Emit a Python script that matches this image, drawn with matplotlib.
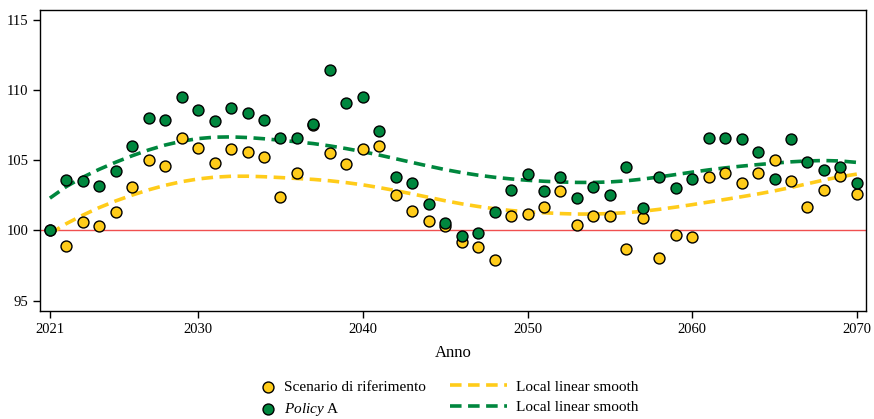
import numpy as np
import matplotlib
matplotlib.use("Agg")
import matplotlib.pyplot as plt

# ---------------------------------------------------------------------------
# Data
# ---------------------------------------------------------------------------
years = np.arange(2021, 2071)

baseline = [
    100.0, 98.9, 100.6, 100.3, 101.3, 103.1, 105.0, 104.6, 106.6, 105.9,
    104.8, 105.8, 105.6, 105.2, 102.4, 104.1, 107.5, 105.5, 104.7, 105.8,
    106.0, 102.5, 101.4, 100.7, 100.3, 99.2, 98.8, 97.9, 101.0, 101.2,
    101.7, 102.8, 100.4, 101.0, 101.0, 98.7, 100.9, 98.05, 99.7, 99.5,
    103.8, 104.1, 103.4, 104.1, 105.0, 103.5, 101.7, 102.9, 103.9, 102.6,
]

policy_a = [
    100.0, 103.6, 103.5, 103.2, 104.2, 106.0, 108.0, 107.9, 109.5, 108.6,
    107.8, 108.7, 108.4, 107.9, 106.6, 106.6, 107.6, 111.45, 109.1, 109.5,
    107.1, 103.8, 103.4, 101.9, 100.5, 99.6, 99.8, 101.3, 102.9, 104.0,
    102.8, 103.8, 102.3, 103.1, 102.5, 104.5, 101.6, 103.8, 103.0, 103.7,
    106.6, 106.6, 106.5, 105.6, 103.7, 106.5, 104.9, 104.3, 104.5, 103.4,
]

x_ticks = [2021, 2030, 2040, 2050, 2060, 2070]
y_ticks = [95, 100, 105, 110, 115]

YELLOW = "#FFCC1A"
GREEN = "#00873E"
BANDWIDTH = 7.0


# ---------------------------------------------------------------------------
# Local linear smoother (Epanechnikov kernel, Stata-style scaling)
# ---------------------------------------------------------------------------
def local_linear(x, y, grid, h):
    x = np.asarray(x, float)
    y = np.asarray(y, float)
    fitted = []
    for g in grid:
        z = (x - g) / h
        w = np.where(np.abs(z) < np.sqrt(5), 0.75 * (1 - z**2 / 5) / np.sqrt(5), 0.0)
        X = np.column_stack([np.ones_like(x), x - g])
        sw = np.sqrt(w)
        beta = np.linalg.lstsq(X * sw[:, None], y * sw, rcond=None)[0]
        fitted.append(beta[0])
    return np.array(fitted)


grid = np.linspace(years.min(), years.max(), 50)
smooth_base = local_linear(years, baseline, grid, BANDWIDTH)
smooth_pol = local_linear(years, policy_a, grid, BANDWIDTH)

# ---------------------------------------------------------------------------
# Plot
# ---------------------------------------------------------------------------
plt.rcParams["font.family"] = ["Liberation Serif", "DejaVu Serif"]
plt.rcParams["mathtext.fontset"] = "custom"
plt.rcParams["mathtext.it"] = "Liberation Serif:italic"
plt.rcParams["mathtext.rm"] = "Liberation Serif"

fig = plt.figure(figsize=(8.74, 4.19), dpi=100)
ax = fig.add_axes([0.0458, 0.258, 0.945, 0.718])

ax.axhline(100, color="#F05050", lw=1.0, zorder=1)

ln1, = ax.plot(grid, smooth_base, color=YELLOW, lw=2.6, dashes=(3.2, 1.8), zorder=2)
ln2, = ax.plot(grid, smooth_pol, color=GREEN, lw=2.6, dashes=(3.2, 1.8), zorder=2)

sc1 = ax.scatter(years, baseline, s=62, color=YELLOW, edgecolor="black",
                 linewidth=1.0, zorder=3)
sc2 = ax.scatter(years, policy_a, s=62, color=GREEN, edgecolor="black",
                 linewidth=1.0, zorder=4)

ax.set_xlim(2020.4, 2070.55)
ax.set_ylim(94.27, 115.7)
ax.set_xticks(x_ticks)
ax.set_yticks(y_ticks)
ax.tick_params(axis="both", labelsize=10.5, length=5, width=1, color="black")
for side in ax.spines.values():
    side.set_linewidth(1.0)
ax.set_xlabel("Anno", fontsize=12, labelpad=7)

# two legend blocks side by side: markers on the left, smooth lines on the right
leg_kw = dict(frameon=False, fontsize=11, borderpad=0, borderaxespad=0,
              labelspacing=0.45, loc="upper left")
leg1 = fig.legend([sc1, sc2], ["Scenario di riferimento", r"$\it{Policy}$ A"],
                  bbox_to_anchor=(260 / 874, 1 - 380 / 419), handlelength=1.0,
                  handletextpad=0.6, scatterpoints=1, **leg_kw)
leg2 = fig.legend([ln1, ln2], ["Local linear smooth", "Local linear smooth"],
                  bbox_to_anchor=(450 / 874, 1 - 380 / 419), handlelength=3.7,
                  handletextpad=0.65, **leg_kw)

fig.savefig("out.png", dpi=100)
